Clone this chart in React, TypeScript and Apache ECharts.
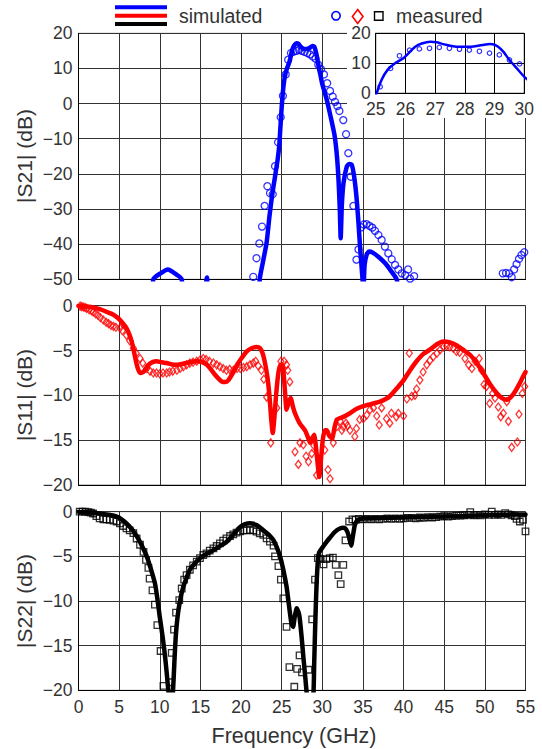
import React, { useEffect, useRef } from 'react';
import * as echarts from 'echarts';

type P = [number, number];

const X_TICKS = [0, 5, 10, 15, 20, 25, 30, 35, 40, 45, 50, 55];
const INSET_TICKS = [25, 26, 27, 28, 29, 30];

const S21_SIM: P[] = [
  [8.5, -75], [9.2, -50], [10.1, -48.3], [11.0, -47.2], [11.9, -48.4], [12.7, -50], [13.4, -75],
  [15.5, -55], [15.8, -49.5], [16.1, -55],
  [21.8, -70], [22.3, -50], [22.7, -45], [23.15, -39.5], [23.5, -32], [23.8, -26.5], [24.2, -20.5],
  [24.5, -16], [24.7, -12], [24.85, -6.5], [25.0, -1], [25.2, 4.5], [25.4, 7.8], [25.65, 10],
  [25.93, 11.7], [26.15, 13.8], [26.33, 15.5], [26.55, 16.6], [26.84, 17.2], [27.05, 17],
  [27.27, 16.4], [27.55, 15.8], [27.83, 15.5], [28.1, 15.5], [28.4, 15.8], [28.65, 16.2],
  [28.84, 16.4], [29.0, 16.2], [29.12, 15.5], [29.3, 13.8], [29.5, 11.1], [29.75, 8.3],
  [30.0, 5.5], [30.5, 1.5], [31.0, -3.5], [31.5, -9], [31.8, -15], [32.0, -22], [32.15, -30],
  [32.26, -38.3], [32.4, -29], [32.6, -22.7], [33.0, -18], [33.3, -17.2], [33.6, -17.3],
  [33.9, -20.5], [34.2, -26.5], [34.45, -34], [34.65, -41], [34.95, -50], [35.05, -54],
  [35.2, -46], [35.45, -43], [35.75, -42.1], [36.2, -42.4], [37.0, -43.8], [37.8, -45.6],
  [38.5, -47.8], [39.15, -50], [39.6, -56],
];

const S21_MEAS: P[] = [
  [21.5, -49.3], [21.9, -44.0], [22.25, -39.8], [22.58, -35.0], [22.9, -29.1], [23.24, -23.5],
  [23.56, -25.5], [23.9, -25.8], [24.18, -17.8], [24.55, -11.0], [24.88, -3.9], [25.15, 2.2],
  [25.5, 8.3], [25.8, 12.5], [26.14, 14.4], [26.47, 14.8], [26.81, 15.0], [27.14, 15.3],
  [27.48, 15.0], [27.82, 14.7], [28.15, 14.4], [28.49, 14.0], [28.83, 13.4], [29.16, 12.8],
  [29.5, 11.1], [29.84, 9.8], [30.2, 8.3], [30.6, 5.8], [30.95, 3.6], [31.28, 2.0], [31.56, 0.5],
  [31.85, -0.7], [32.1, -2.1], [32.58, -4.7], [32.92, -8.7], [33.2, -14.1], [33.5, -20.8],
  [33.82, -29.1], [34.2, -44.4], [34.45, -41.5], [34.8, -35.2], [35.1, -34.4], [35.45, -34.3],
  [35.8, -34.8], [36.15, -35.3], [36.48, -36.2], [36.9, -37.4], [37.3, -38.8], [37.7, -40.7],
  [38.12, -42.6], [38.54, -44.3], [38.95, -45.9], [39.35, -47.2], [39.77, -48.3], [40.2, -48.8],
  [40.55, -47.2], [40.8, -49.8], [41.3, -49.1],
  [52.2, -48.3], [52.6, -48.2], [53.0, -48.3], [53.3, -49.4], [53.6, -47.2], [53.9, -45.7],
  [54.2, -44.2], [54.5, -43.1], [54.85, -42.3],
];

const S11_SIM: P[] = [
  [0, 0], [1.0, -0.1], [1.8, -0.2], [2.7, -0.4], [3.5, -0.7], [4.3, -1.0], [4.9, -1.4],
  [5.4, -1.9], [5.9, -2.5], [6.25, -3.2], [6.55, -4.0], [6.8, -5.0], [7.07, -6.2], [7.3, -7.0],
  [7.57, -7.5], [7.98, -7.4], [8.3, -7.0], [8.6, -6.6], [9.1, -6.3], [9.6, -6.2], [10.2, -6.3],
  [10.85, -6.4], [11.5, -6.55], [12.1, -6.6], [12.7, -6.5], [13.3, -6.4], [14.0, -6.25],
  [14.55, -6.2], [15.2, -6.3], [15.8, -6.6], [16.3, -7.1], [16.8, -7.7], [17.3, -8.2],
  [17.7, -8.5], [18.1, -8.5], [18.45, -8.3], [19.0, -7.5], [19.5, -6.6], [20.1, -5.8],
  [20.7, -5.1], [21.3, -4.75], [21.9, -4.6], [22.3, -4.7], [22.65, -5.3], [22.95, -6.4],
  [23.25, -8.0], [23.5, -10.1], [23.7, -12.5], [23.9, -14.2], [24.1, -12.5], [24.3, -10.1],
  [24.55, -7.8], [24.8, -6.6], [25.0, -6.6], [25.2, -7.2], [25.4, -9.5], [25.6, -11.6],
  [25.85, -10.8], [26.1, -10.3], [26.4, -11.3], [26.64, -12.0], [27.2, -13.1], [27.87, -13.9],
  [28.2, -14.6], [28.5, -15.3], [28.75, -14.8], [29.0, -14.4], [29.3, -16.5], [29.63, -19.1],
  [29.85, -17], [30.05, -15.0], [30.3, -13.9], [30.55, -13.9], [30.85, -14.5], [31.2, -14.8],
  [31.5, -13.6], [31.8, -12.7], [32.6, -12.4], [33.4, -12.0], [34.23, -11.5], [35.05, -11.2],
  [35.87, -11.0], [37.1, -10.7], [37.8, -10.4], [38.3, -10.1], [39.1, -9.3], [40.0, -8.3],
  [40.8, -7.2], [41.6, -6.2], [42.4, -5.4], [43.25, -4.9], [44.1, -4.3], [44.9, -4.0],
  [45.7, -4.1], [46.5, -4.4], [47.3, -4.9], [48.2, -5.5], [49.0, -6.4], [49.8, -7.5],
  [50.6, -8.7], [51.5, -9.8], [52.1, -10.3], [52.7, -10.5], [53.2, -10.2], [53.7, -9.6],
  [54.2, -8.8], [54.7, -7.9], [55, -7.4],
];

const S11_MEAS: P[] = [
  [0.2, -0.05], [0.4, -0.1], [0.6, -0.15], [0.8, -0.2], [1.0, -0.3], [1.3, -0.45], [1.6, -0.55],
  [1.8, -0.7], [2.1, -0.9], [2.4, -1.1], [2.7, -1.35], [3.05, -1.6], [3.4, -1.85], [3.7, -2.0],
  [4.0, -2.2], [4.3, -2.3], [4.6, -2.4], [5.1, -2.5], [5.4, -2.8], [5.9, -3.3], [6.3, -3.9],
  [6.75, -4.75], [7.1, -5.3], [7.57, -5.9], [7.9, -6.4], [8.4, -7.0], [8.8, -7.3], [9.2, -7.5],
  [9.6, -7.5], [10.0, -7.6], [10.4, -7.5], [10.85, -7.5], [11.2, -7.4], [11.6, -7.3],
  [12.1, -7.2], [12.5, -7.0], [12.9, -6.8], [13.3, -6.6], [13.7, -6.4], [14.1, -6.3],
  [14.55, -6.2], [15.0, -6.0], [15.35, -5.9], [15.7, -6.0], [16.1, -6.2], [16.6, -6.4],
  [17.0, -6.6], [17.4, -6.8], [17.8, -7.0], [18.2, -7.2], [18.6, -7.1], [19.05, -7.2],
  [19.5, -7.0], [19.9, -7.0], [20.3, -6.9], [20.7, -6.8], [21.1, -6.6], [21.5, -6.4],
  [21.8, -6.2], [22.1, -6.7], [22.5, -7.2], [22.8, -8.2], [23.15, -10.2], [23.65, -15.3],
  [24.4, -11.4], [24.9, -6.2], [25.3, -6.2], [25.6, -6.6], [25.75, -7.2], [26.0, -8.5],
  [26.64, -16.3], [27.05, -17.7], [27.25, -15.3], [27.66, -15.5], [28.0, -16.8], [28.3, -17.4],
  [28.7, -16.5], [28.95, -15.6], [29.3, -18.9], [30.3, -16.1], [30.7, -18.3], [30.95, -19.3],
  [31.35, -15.3], [31.77, -13.5], [32.2, -12.9], [32.4, -13.9], [32.6, -13.5], [32.9, -13.1],
  [33.1, -13.4], [33.4, -13.9], [34.0, -14.6], [34.2, -13.7], [34.6, -12.7], [35.05, -12.6],
  [35.46, -12.2], [35.87, -11.6], [36.3, -11.4], [36.7, -12.3], [37.0, -13.3], [37.3, -11.4],
  [37.9, -12.6], [38.3, -13.1], [38.5, -12.0], [39.1, -12.4], [39.35, -12.0], [40.0, -12.3],
  [40.4, -10.4], [40.7, -5.3], [41.0, -10.1], [41.4, -10.0], [41.6, -9.3], [42.0, -8.3],
  [42.4, -7.4], [42.85, -6.6], [43.25, -6.1], [43.65, -5.7], [44.1, -5.3], [44.5, -4.9],
  [44.9, -4.6], [45.3, -4.5], [45.7, -4.6], [46.1, -4.75], [46.5, -5.1], [46.9, -5.2],
  [47.55, -5.9], [48.0, -6.6], [48.4, -7.0], [48.8, -6.2], [49.3, -5.9], [49.6, -7.2],
  [49.9, -8.8], [50.2, -9.0], [50.6, -10.9], [50.95, -9.8], [51.25, -10.3], [51.65, -11.3],
  [51.95, -12.4], [52.27, -12.0], [52.7, -10.7], [52.9, -12.9], [53.3, -15.8], [54.0, -15.2],
  [54.2, -12.1], [54.6, -9.8], [54.9, -9.0],
];

const S22_SIM: P[] = [
  [0, 0], [1.0, -0.05], [2.6, -0.2], [3.7, -0.35], [4.7, -0.55], [5.3, -0.85], [5.9, -1.3],
  [6.6, -2.0], [7.2, -2.8], [7.8, -3.8], [8.4, -5.0], [8.9, -6.4], [9.4, -8.0], [9.7, -9.7],
  [10.0, -11.8], [10.35, -14], [10.65, -16.2], [10.9, -18.5], [11.1, -20.5], [11.35, -22.5],
  [11.6, -20.5], [11.87, -15.5], [12.05, -13], [12.3, -11.0], [12.6, -9.5], [12.9, -8.4],
  [13.3, -7.4], [13.7, -6.5], [14.3, -5.8], [14.95, -5.2], [15.8, -4.7], [16.6, -4.3],
  [17.4, -3.85], [18.2, -3.4], [19.0, -2.6], [19.9, -1.7], [20.5, -1.4], [21.1, -1.3],
  [21.5, -1.35], [21.9, -1.5], [22.3, -1.75], [22.7, -2.05], [23.3, -2.5], [23.7, -2.85],
  [24.0, -3.2], [24.4, -4.0], [24.8, -5.0], [25.2, -6.5], [25.6, -8.4], [25.9, -10.5],
  [26.2, -12.5], [26.4, -12.9], [26.6, -11.8], [26.85, -10.8], [27.05, -11.2], [27.2, -11.8],
  [27.45, -14], [27.66, -16.2], [27.9, -18.5], [28.1, -20.5], [28.5, -23], [28.9, -20.5],
  [29.0, -17], [29.1, -13.6], [29.2, -10.5], [29.3, -8.0], [29.45, -5.5], [29.6, -4.6],
  [30.1, -3.9], [30.5, -3.4], [30.95, -2.9], [31.5, -2.3], [32.0, -1.95], [32.5, -1.8],
  [32.85, -1.9], [33.1, -2.3], [33.3, -2.9], [33.55, -3.8], [33.75, -2.8], [34.0, -1.5],
  [34.3, -0.95], [34.7, -0.8], [35.0, -0.75], [37.0, -0.7], [40.0, -0.65], [42.0, -0.6],
  [45.0, -0.55], [48.0, -0.45], [50.0, -0.4], [52.0, -0.35], [55.0, -0.3],
];

const S22_MEAS: P[] = [
  [0.15, 0.0], [0.5, 0.0], [0.85, 0.0], [1.2, -0.05], [1.5, -0.1], [1.8, -0.2], [2.2, -0.5],
  [2.6, -0.75], [3.05, -0.85], [3.45, -0.85], [3.85, -0.9], [4.3, -1.0], [4.7, -1.1],
  [5.1, -1.3], [5.5, -1.6], [5.9, -1.86], [6.3, -2.1], [6.75, -2.4], [7.15, -3.0], [7.57, -3.7],
  [8.0, -4.5], [8.3, -5.4], [8.6, -6.3], [8.75, -7.5], [9.1, -8.8], [9.4, -10.4], [9.7, -12.7],
  [10.1, -15.6], [10.45, -19.5], [11.25, -19.1], [11.47, -15.8], [11.75, -13.2], [12.0, -11.3],
  [12.4, -9.9], [12.7, -8.6], [13.0, -7.6], [13.3, -7.1], [13.7, -6.5], [14.1, -6.0],
  [14.55, -5.6], [14.95, -5.2], [15.35, -4.85], [15.75, -4.66], [16.15, -4.37], [16.6, -4.1],
  [17.0, -3.84], [17.4, -3.54], [17.8, -3.25], [18.2, -2.98], [18.65, -2.72], [19.05, -2.53],
  [19.45, -2.35], [19.9, -2.2], [20.3, -2.1], [20.7, -2.1], [21.1, -2.05], [21.5, -2.1],
  [21.9, -2.24], [22.3, -2.42], [22.75, -2.6], [23.15, -2.98], [23.55, -3.36], [24.0, -3.8],
  [24.18, -5.0], [24.6, -6.1], [24.9, -7.6], [25.2, -9.7], [25.6, -12.9], [25.95, -17.4],
  [26.55, -19.6], [26.9, -17.6], [27.2, -16.1], [27.5, -18.0], [28.3, -17.7], [28.75, -12.05],
  [29.1, -7.6], [29.45, -5.2], [29.8, -5.3], [30.15, -5.9], [30.5, -5.3], [30.9, -5.2],
  [31.3, -5.15], [31.65, -5.95], [31.97, -7.1], [32.26, -8.1], [32.58, -5.95], [32.85, -3.2],
  [33.3, -1.1], [33.7, -0.85], [34.1, -0.9], [34.5, -0.8], [35.0, -0.85], [35.5, -0.8],
  [36.0, -0.85], [36.5, -0.8], [37.0, -0.85], [37.5, -0.8], [38.0, -0.75], [38.5, -0.8],
  [39.0, -0.75], [39.5, -0.8], [40.0, -0.75], [40.5, -0.7], [41.0, -0.7], [41.5, -0.75],
  [42.0, -0.65], [42.5, -0.7], [43.0, -0.6], [43.5, -0.65], [44.0, -0.6], [44.5, -0.55],
  [45.0, -0.5], [45.5, -0.55], [46.0, -0.5], [46.5, -0.45], [47.0, -0.45], [47.5, -0.4],
  [48.0, -0.35], [48.2, -0.05], [48.6, -0.4], [49.0, -0.35], [49.5, -0.4], [50.0, -0.3],
  [50.5, -0.35], [50.85, 0.0], [51.2, -0.35], [51.6, -0.3], [52.0, -0.35], [52.5, -0.15],
  [52.9, -0.3], [53.3, -0.4], [53.7, -0.5], [53.9, -0.8], [54.3, -1.1], [54.7, -0.9],
  [55.0, -2.2],
];

const FONT = '"Liberation Sans", Arial, Helvetica, sans-serif';
const TXT = '#333';
const GRIDC = '#333';
const BLUE = '#0000ff';
const RED = '#ff0000';
const BLACK = '#000000';

const fmt = (v: number) => String(v).replace('-', '\u2212');

function xAxis(gridIndex: number, showLabel: boolean) {
  return {
    type: 'value', gridIndex, min: X_TICKS[0], max: X_TICKS[X_TICKS.length - 1], interval: 5,
    axisLine: { show: true, onZero: false, lineStyle: { color: '#000', width: 1 } },
    axisTick: { show: false },
    axisLabel: { show: showLabel, fontSize: 17.5, color: TXT, margin: 8, fontFamily: FONT },
    splitLine: { show: true, lineStyle: { color: GRIDC, width: 1 } },
  };
}

function yAxis(gridIndex: number, min: number, max: number, interval: number) {
  return {
    type: 'value', gridIndex, min, max, interval,
    axisLine: { show: true, onZero: false, lineStyle: { color: '#000', width: 1 } },
    axisTick: { show: false },
    axisLabel: { fontSize: 17.5, color: TXT, margin: 6, fontFamily: FONT, formatter: fmt },
    splitLine: { show: true, lineStyle: { color: GRIDC, width: 1 } },
  };
}

function simLine(data: P[], color: string, axis: number, width = 4.5, z = 3) {
  return {
    type: 'line', xAxisIndex: axis, yAxisIndex: axis, data, showSymbol: false, symbol: 'none',
    smooth: 0.2, clip: true, z,
    lineStyle: { color, width, join: 'round', cap: 'round' },
  };
}

function measScatter(data: P[], color: string, symbol: any, size: any, axis: number, bw = 1.3, z = 4) {
  return {
    type: 'scatter', xAxisIndex: axis, yAxisIndex: axis, data, symbol, symbolSize: size, clip: true, z,
    itemStyle: { color: 'rgba(255,255,255,0)', borderColor: color, borderWidth: bw },
  };
}

export default function App() {
  const ref = useRef<HTMLDivElement>(null);
  useEffect(() => {
    const chart = echarts.init(ref.current!, null, { renderer: 'svg' });
    const gridBase = { show: true, borderColor: '#888', borderWidth: 1, backgroundColor: 'transparent' };
    const nameStyle = { fontSize: 21, fill: TXT, fontFamily: FONT, align: 'center', verticalAlign: 'middle' };
    const option: any = {
      animation: false,
      backgroundColor: '#fff',
      textStyle: { fontFamily: FONT },
      grid: [
        { ...gridBase, left: 78.5, top: 33.3, width: 447, height: 246 },
        { ...gridBase, left: 78.5, top: 305.7, width: 447, height: 179.3 },
        { ...gridBase, left: 78.5, top: 511.7, width: 447, height: 178.6 },
        { show: true, borderColor: '#000', borderWidth: 1, backgroundColor: '#fff', left: 375.7, top: 33.3, width: 148.6, height: 60, z: 60 },
      ],
      xAxis: [
        xAxis(0, false),
        xAxis(1, false),
        xAxis(2, true),
        {
          type: 'value', gridIndex: 3, min: INSET_TICKS[0], max: INSET_TICKS[INSET_TICKS.length - 1], interval: 1, z: 60,
          axisLine: { show: true, onZero: false, lineStyle: { color: '#000', width: 1 } },
          axisTick: { show: false },
          axisLabel: { fontSize: 17.5, color: TXT, margin: 7, fontFamily: FONT },
          splitLine: { show: true, lineStyle: { color: '#000', width: 1 } },
        },
      ],
      yAxis: [
        yAxis(0, -50, 20, 10),
        yAxis(1, -20, 0, 5),
        yAxis(2, -20, 0, 5),
        {
          type: 'value', gridIndex: 3, min: 0, max: 20, interval: 10, z: 60,
          axisLine: { show: true, onZero: false, lineStyle: { color: '#000', width: 1 } },
          axisTick: { show: false },
          axisLabel: { fontSize: 17.5, color: TXT, margin: 5, fontFamily: FONT },
          splitLine: { show: true, lineStyle: { color: '#000', width: 1 } },
        },
      ],
      series: [
        simLine(S21_SIM, BLUE, 0),
        measScatter(S21_MEAS, BLUE, 'circle', 7, 0),
        simLine(S11_SIM, RED, 1),
        measScatter(S11_MEAS, RED, 'diamond', [6, 8], 1),
        simLine(S22_SIM, BLACK, 2),
        measScatter(S22_MEAS, BLACK, 'rect', 6.5, 2),
        simLine(S21_SIM.filter((p) => p[0] >= 24.5 && p[0] <= 30.5), BLUE, 3, 2.5, 61),
        measScatter(S21_MEAS.filter((p) => p[0] >= 25 && p[0] <= 30), BLUE, 'circle', 4.5, 3, 1.2, 62),
      ],
      graphic: [
        { type: 'rect', z: 50, shape: { x: 347, y: 26, width: 185, height: 92 }, style: { fill: '#fff' } },
        { type: 'line', shape: { x1: 115, y1: 7.3, x2: 167, y2: 7.3 }, style: { stroke: BLUE, lineWidth: 4 } },
        { type: 'line', shape: { x1: 115, y1: 15.8, x2: 167, y2: 15.8 }, style: { stroke: RED, lineWidth: 4 } },
        { type: 'line', shape: { x1: 115, y1: 24, x2: 167, y2: 24 }, style: { stroke: BLACK, lineWidth: 4 } },
        { type: 'text', x: 179, y: 16, style: { text: 'simulated', fontSize: 19.5, fill: TXT, fontFamily: FONT, align: 'left', verticalAlign: 'middle' } },
        { type: 'circle', shape: { cx: 336, cy: 15.8, r: 4.2 }, style: { fill: 'none', stroke: BLUE, lineWidth: 1.6 } },
        { type: 'polygon', shape: { points: [[357.7, 9.5], [363, 16.5], [357.7, 23.5], [352.4, 16.5]] }, style: { fill: 'none', stroke: RED, lineWidth: 1.6 } },
        { type: 'rect', shape: { x: 374.5, y: 11.8, width: 8.5, height: 8.5 }, style: { fill: 'none', stroke: BLACK, lineWidth: 1.4 } },
        { type: 'text', x: 396, y: 16, style: { text: 'measured', fontSize: 19.5, fill: TXT, fontFamily: FONT, align: 'left', verticalAlign: 'middle' } },
        { type: 'text', x: 24, y: 156, rotation: Math.PI / 2, style: { text: '|S21| (dB)', ...nameStyle } },
        { type: 'text', x: 24, y: 395, rotation: Math.PI / 2, style: { text: '|S11| (dB)', ...nameStyle } },
        { type: 'text', x: 24, y: 601, rotation: Math.PI / 2, style: { text: '|S22| (dB)', ...nameStyle } },
        { type: 'text', x: 294, y: 736, style: { text: 'Frequency (GHz)', fontSize: 21.5, fill: TXT, fontFamily: FONT, align: 'center', verticalAlign: 'middle' } },
      ],
    };
    chart.setOption(option);
    return () => chart.dispose();
  }, []);
  return (
    <div
      ref={ref}
      style={{ position: 'fixed', left: 0, top: 0, width: 542, height: 749, background: '#fff' }}
    />
  );
}
